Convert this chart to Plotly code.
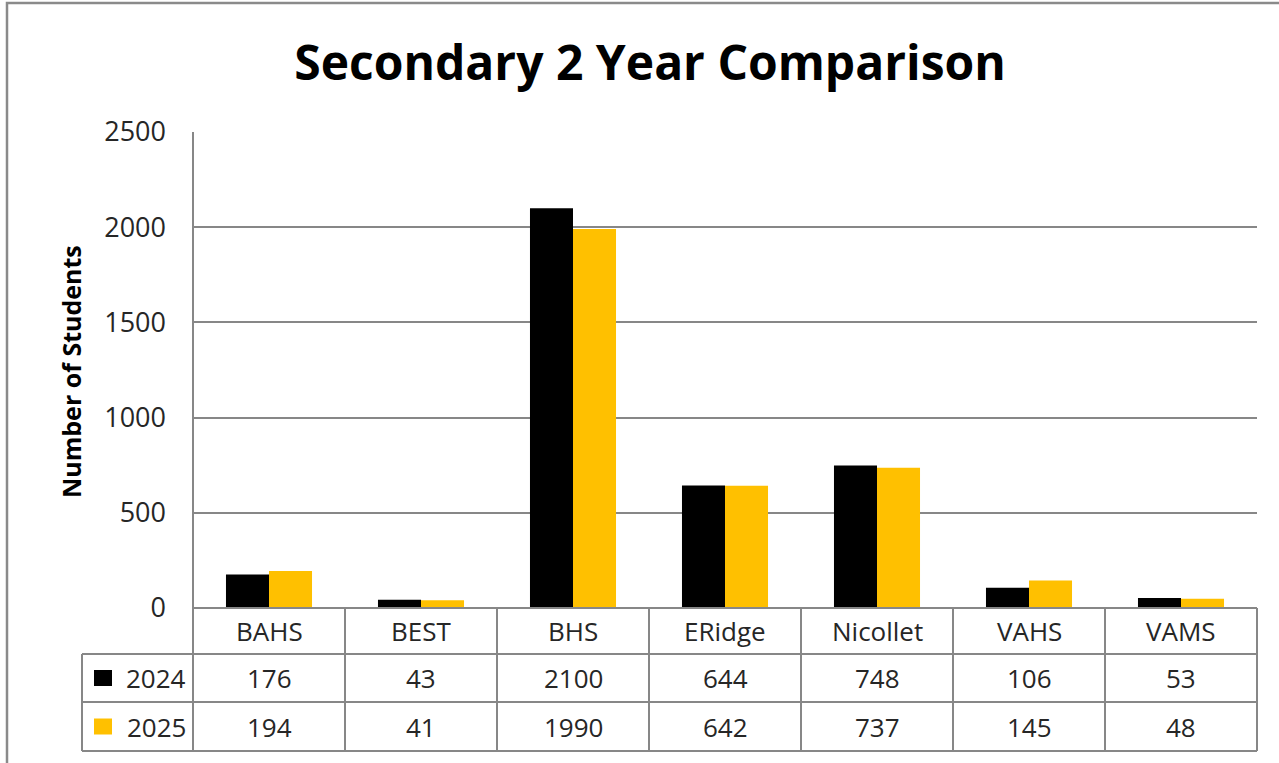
import plotly.graph_objects as go

categories = ["BAHS", "BEST", "BHS", "ERidge", "Nicollet", "VAHS", "VAMS"]
series_names = ["2024", "2025"]
values_2024 = [176, 43, 2100, 644, 748, 106, 53]
values_2025 = [194, 41, 1990, 642, 737, 145, 48]
y_ticks = [0, 500, 1000, 1500, 2000, 2500]

title_text = "Secondary 2 Year Comparison"
y_title = "Number of Students"

colors = ["#000000", "#FFC000"]
FONT = "Open Sans"
TXT = "#262626"
GRID = "#878787"

W, H = 1279, 763
L, R, T, B = 193, 1257, 132, 608  # plot area in pixels


def px(X):
    return (X - L) / (R - L)


def py(Y):
    return (B - Y) / (B - T)


fig = go.Figure()
for name, vals, col in zip(series_names, [values_2024, values_2025], colors):
    fig.add_trace(go.Bar(x=categories, y=vals, name=name, marker=dict(color=col, line=dict(width=0)),
                         showlegend=False))

shapes = []
line = dict(color=GRID, width=2)
# table rows (pixel y)
r0, r1, r2, r3 = 608, 654, 702, 751
legend_left = 82
# horizontal lines
shapes.append(dict(type="line", xref="paper", yref="paper", x0=px(L), x1=px(R), y0=py(r0), y1=py(r0), line=line))
for yy in [r1, r2, r3]:
    shapes.append(dict(type="line", xref="paper", yref="paper", x0=px(legend_left), x1=px(R), y0=py(yy), y1=py(yy), line=line))
# vertical lines at category boundaries
n = len(categories)
for k in range(n + 1):
    xx = L + (R - L) * k / n
    y_top = T if k == 0 else r0
    shapes.append(dict(type="line", xref="paper", yref="paper", x0=px(xx), x1=px(xx), y0=py(y_top), y1=py(r3), line=line))
shapes.append(dict(type="line", xref="paper", yref="paper", x0=px(legend_left), x1=px(legend_left), y0=py(r1), y1=py(r3), line=line))
# outer chart border
shapes.append(dict(type="rect", xref="paper", yref="paper", x0=px(7), x1=px(1300), y0=py(3), y1=py(790),
                   line=dict(color="#8a8a8a", width=2.5), fillcolor="rgba(0,0,0,0)"))

annotations = []
row_centers = [(r0 + r1) / 2, (r1 + r2) / 2, (r2 + r3) / 2]
for i, c in enumerate(categories):
    annotations.append(dict(x=i, y=py(row_centers[0]), xref="x", yref="paper", text=c, showarrow=False,
                            font=dict(family=FONT, size=26, color=TXT), xanchor="center", yanchor="middle"))
    for rc, vals in zip(row_centers[1:], [values_2024, values_2025]):
        annotations.append(dict(x=i, y=py(rc), xref="x", yref="paper", text=str(vals[i]), showarrow=False,
                                font=dict(family=FONT, size=26, color=TXT), xanchor="center", yanchor="middle"))
# legend keys in table
for rc, name, col in zip(row_centers[1:], series_names, colors):
    shapes.append(dict(type="rect", xref="paper", yref="paper", x0=px(94), x1=px(112), y0=py(rc - 8), y1=py(rc + 8),
                       line=dict(width=0), fillcolor=col))
    annotations.append(dict(x=px(188), y=py(rc), xref="paper", yref="paper", text=name, showarrow=False,
                            font=dict(family=FONT, size=26, color=TXT), xanchor="right", yanchor="middle"))
# y axis title
annotations.append(dict(x=px(71), y=py(372), xref="paper", yref="paper", text="<b>" + y_title + "</b>",
                        showarrow=False, textangle=-90, font=dict(family=FONT, size=25, color="#000000"),
                        xanchor="center", yanchor="middle"))

fig.update_layout(
    width=W, height=H,
    margin=dict(l=L, r=W - R, t=T, b=H - B, pad=0),
    paper_bgcolor="white", plot_bgcolor="white",
    title=dict(text="<b>" + title_text + "</b>", x=650 / W, xanchor="center", y=1 - 63 / H, yanchor="middle",
               xref="container", yref="container", font=dict(family=FONT, size=48, color="#000000")),
    barmode="group", bargap=0.434, bargroupgap=0,
    xaxis=dict(showticklabels=False, showgrid=False, zeroline=False, showline=False, ticks=""),
    yaxis=dict(range=[0, 2500], tickvals=y_ticks, showgrid=True, gridcolor=GRID, gridwidth=2,
               zeroline=False, showline=False, ticks="", ticklabelstandoff=26,
               tickfont=dict(family=FONT, size=27, color=TXT)),
    shapes=shapes, annotations=annotations,
)

fig.write_html("out.html", config={"displayModeBar": False},
               post_script="document.body.style.margin='0px';")
